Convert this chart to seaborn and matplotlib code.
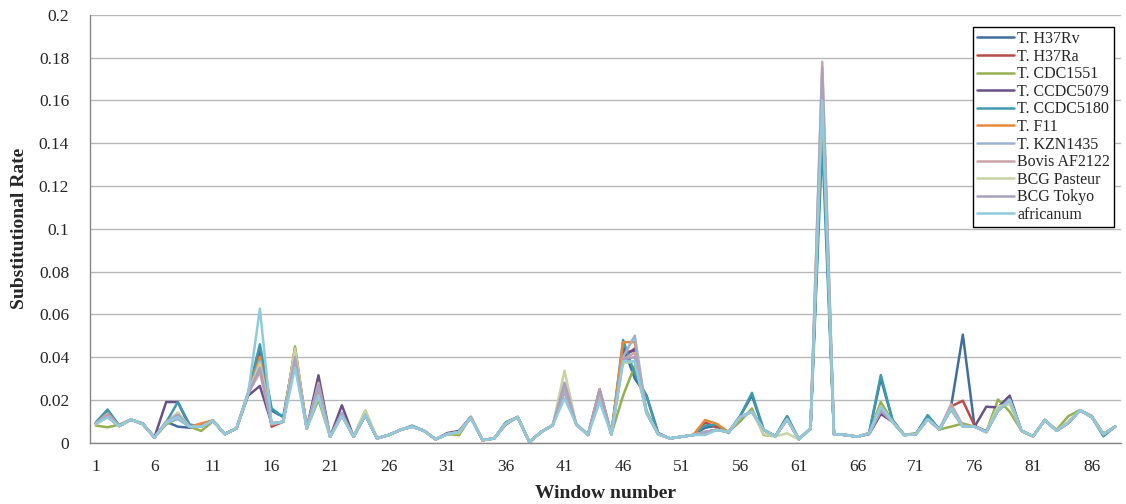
import numpy as np
import pandas as pd
import seaborn as sns
import matplotlib.pyplot as plt

windows = list(range(1, 89))

strains = ["T. H37Rv", "T. H37Ra", "T. CDC1551", "T. CCDC5079", "T. CCDC5180", "T. F11",
           "T. KZN1435", "Bovis AF2122", "BCG Pasteur", "BCG Tokyo", "africanum"]

colors = ["#3F6E9F", "#B84C49", "#95B04F", "#6A5088", "#3E9AAE", "#E8893A",
          "#9DB2D3", "#CCA3A6", "#C6D5A3", "#ABA0C0", "#8FCBDD"]

h37rv = [0.0092, 0.0150, 0.0080, 0.0108, 0.0088, 0.0024, 0.0098, 0.0075, 0.0070, 0.0076,
         0.0102, 0.0040, 0.0066, 0.0230, 0.0430, 0.0150, 0.0120, 0.0430, 0.0068, 0.0240,
         0.0029, 0.0130, 0.0028, 0.0128, 0.0021, 0.0036, 0.0060, 0.0076, 0.0056, 0.0016,
         0.0040, 0.0052, 0.0118, 0.0012, 0.0020, 0.0095, 0.0120, 0.0003, 0.0050, 0.0082,
         0.0240, 0.0088, 0.0036, 0.0225, 0.0040, 0.0450, 0.0300, 0.0220, 0.0045, 0.0020,
         0.0028, 0.0036, 0.0070, 0.0080, 0.0050, 0.0125, 0.0220, 0.0060, 0.0030, 0.0115,
         0.0016, 0.0067, 0.1500, 0.0040, 0.0036, 0.0028, 0.0044, 0.0300, 0.0105, 0.0036,
         0.0040, 0.0125, 0.0062, 0.0170, 0.0505, 0.0075, 0.0055, 0.0150, 0.0200, 0.0056,
         0.0030, 0.0106, 0.0056, 0.0092, 0.0150, 0.0120, 0.0040, 0.0075]

h37ra = [0.0090, 0.0120, 0.0078, 0.0108, 0.0087, 0.0025, 0.0092, 0.0120, 0.0075, 0.0080,
         0.0103, 0.0040, 0.0067, 0.0230, 0.0410, 0.0075, 0.0098, 0.0440, 0.0067, 0.0250,
         0.0028, 0.0132, 0.0028, 0.0130, 0.0020, 0.0036, 0.0060, 0.0075, 0.0056, 0.0016,
         0.0040, 0.0050, 0.0120, 0.0012, 0.0020, 0.0085, 0.0120, 0.0003, 0.0050, 0.0082,
         0.0250, 0.0087, 0.0036, 0.0230, 0.0040, 0.0420, 0.0430, 0.0140, 0.0040, 0.0020,
         0.0028, 0.0036, 0.0095, 0.0070, 0.0050, 0.0120, 0.0145, 0.0060, 0.0030, 0.0110,
         0.0016, 0.0067, 0.1550, 0.0040, 0.0036, 0.0028, 0.0044, 0.0150, 0.0098, 0.0036,
         0.0040, 0.0110, 0.0062, 0.0170, 0.0196, 0.0080, 0.0050, 0.0150, 0.0200, 0.0056,
         0.0030, 0.0106, 0.0056, 0.0093, 0.0152, 0.0125, 0.0040, 0.0075]

cdc1551 = [0.0080, 0.0072, 0.0085, 0.0108, 0.0087, 0.0025, 0.0085, 0.0115, 0.0075, 0.0055,
           0.0100, 0.0040, 0.0067, 0.0230, 0.0390, 0.0090, 0.0098, 0.0450, 0.0067, 0.0200,
           0.0028, 0.0125, 0.0028, 0.0150, 0.0020, 0.0036, 0.0060, 0.0075, 0.0056, 0.0016,
           0.0040, 0.0035, 0.0120, 0.0012, 0.0020, 0.0090, 0.0120, 0.0003, 0.0050, 0.0082,
           0.0260, 0.0087, 0.0036, 0.0230, 0.0040, 0.0220, 0.0360, 0.0150, 0.0040, 0.0020,
           0.0028, 0.0036, 0.0045, 0.0060, 0.0050, 0.0100, 0.0160, 0.0036, 0.0030, 0.0124,
           0.0016, 0.0067, 0.1550, 0.0040, 0.0036, 0.0028, 0.0044, 0.0190, 0.0098, 0.0036,
           0.0045, 0.0110, 0.0062, 0.0075, 0.0090, 0.0075, 0.0050, 0.0202, 0.0145, 0.0056,
           0.0030, 0.0106, 0.0060, 0.0124, 0.0152, 0.0120, 0.0040, 0.0075]

ccdc5079 = [0.0090, 0.0125, 0.0078, 0.0108, 0.0090, 0.0025, 0.0190, 0.0190, 0.0075, 0.0075,
            0.0103, 0.0040, 0.0067, 0.0220, 0.0265, 0.0090, 0.0098, 0.0420, 0.0067, 0.0315,
            0.0028, 0.0175, 0.0028, 0.0130, 0.0020, 0.0036, 0.0060, 0.0075, 0.0056, 0.0016,
            0.0045, 0.0055, 0.0120, 0.0012, 0.0020, 0.0090, 0.0120, 0.0003, 0.0050, 0.0082,
            0.0270, 0.0087, 0.0036, 0.0250, 0.0040, 0.0400, 0.0440, 0.0140, 0.0040, 0.0020,
            0.0028, 0.0036, 0.0050, 0.0060, 0.0050, 0.0120, 0.0145, 0.0060, 0.0030, 0.0110,
            0.0016, 0.0067, 0.1600, 0.0040, 0.0036, 0.0028, 0.0040, 0.0134, 0.0098, 0.0036,
            0.0040, 0.0110, 0.0062, 0.0160, 0.0075, 0.0075, 0.0168, 0.0165, 0.0220, 0.0056,
            0.0030, 0.0106, 0.0056, 0.0093, 0.0152, 0.0120, 0.0040, 0.0075]

ccdc5180 = [0.0095, 0.0155, 0.0078, 0.0108, 0.0087, 0.0025, 0.0095, 0.0190, 0.0085, 0.0075,
            0.0103, 0.0040, 0.0067, 0.0235, 0.0460, 0.0160, 0.0120, 0.0410, 0.0067, 0.0230,
            0.0028, 0.0130, 0.0028, 0.0130, 0.0020, 0.0036, 0.0060, 0.0080, 0.0056, 0.0016,
            0.0040, 0.0050, 0.0120, 0.0012, 0.0020, 0.0095, 0.0120, 0.0003, 0.0050, 0.0082,
            0.0240, 0.0087, 0.0036, 0.0230, 0.0040, 0.0480, 0.0320, 0.0220, 0.0040, 0.0020,
            0.0028, 0.0036, 0.0080, 0.0085, 0.0045, 0.0125, 0.0233, 0.0060, 0.0030, 0.0124,
            0.0016, 0.0067, 0.1400, 0.0040, 0.0036, 0.0028, 0.0044, 0.0316, 0.0106, 0.0036,
            0.0040, 0.0129, 0.0062, 0.0155, 0.0075, 0.0075, 0.0050, 0.0150, 0.0200, 0.0056,
            0.0030, 0.0106, 0.0056, 0.0093, 0.0152, 0.0120, 0.0030, 0.0075]

f11 = [0.0090, 0.0120, 0.0078, 0.0108, 0.0087, 0.0025, 0.0095, 0.0120, 0.0075, 0.0090,
       0.0105, 0.0040, 0.0067, 0.0230, 0.0400, 0.0090, 0.0098, 0.0440, 0.0067, 0.0250,
       0.0028, 0.0130, 0.0028, 0.0135, 0.0020, 0.0036, 0.0060, 0.0075, 0.0056, 0.0016,
       0.0040, 0.0050, 0.0120, 0.0012, 0.0020, 0.0090, 0.0120, 0.0003, 0.0050, 0.0082,
       0.0250, 0.0087, 0.0036, 0.0230, 0.0040, 0.0470, 0.0470, 0.0140, 0.0040, 0.0020,
       0.0028, 0.0036, 0.0106, 0.0088, 0.0050, 0.0120, 0.0145, 0.0060, 0.0030, 0.0110,
       0.0016, 0.0067, 0.1580, 0.0040, 0.0036, 0.0028, 0.0044, 0.0150, 0.0098, 0.0036,
       0.0040, 0.0110, 0.0062, 0.0160, 0.0075, 0.0075, 0.0050, 0.0150, 0.0200, 0.0056,
       0.0030, 0.0106, 0.0056, 0.0093, 0.0152, 0.0120, 0.0040, 0.0075]

kzn1435 = [0.0090, 0.0120, 0.0078, 0.0108, 0.0087, 0.0025, 0.0095, 0.0110, 0.0075, 0.0075,
           0.0103, 0.0040, 0.0067, 0.0230, 0.0380, 0.0090, 0.0098, 0.0400, 0.0067, 0.0260,
           0.0028, 0.0130, 0.0028, 0.0130, 0.0020, 0.0036, 0.0060, 0.0075, 0.0056, 0.0016,
           0.0040, 0.0050, 0.0120, 0.0012, 0.0020, 0.0090, 0.0120, 0.0003, 0.0050, 0.0082,
           0.0240, 0.0087, 0.0036, 0.0220, 0.0040, 0.0400, 0.0500, 0.0140, 0.0040, 0.0020,
           0.0028, 0.0036, 0.0050, 0.0060, 0.0050, 0.0120, 0.0145, 0.0060, 0.0030, 0.0110,
           0.0016, 0.0067, 0.1650, 0.0040, 0.0036, 0.0028, 0.0044, 0.0150, 0.0098, 0.0036,
           0.0040, 0.0110, 0.0062, 0.0160, 0.0075, 0.0075, 0.0050, 0.0150, 0.0200, 0.0056,
           0.0030, 0.0106, 0.0056, 0.0093, 0.0152, 0.0120, 0.0040, 0.0075]

bovis = [0.0090, 0.0137, 0.0078, 0.0108, 0.0087, 0.0025, 0.0095, 0.0140, 0.0075, 0.0075,
         0.0103, 0.0040, 0.0067, 0.0230, 0.0330, 0.0085, 0.0098, 0.0390, 0.0067, 0.0280,
         0.0028, 0.0135, 0.0028, 0.0130, 0.0020, 0.0036, 0.0060, 0.0075, 0.0056, 0.0016,
         0.0040, 0.0050, 0.0120, 0.0012, 0.0020, 0.0090, 0.0120, 0.0003, 0.0050, 0.0082,
         0.0260, 0.0087, 0.0036, 0.0250, 0.0040, 0.0390, 0.0420, 0.0140, 0.0040, 0.0020,
         0.0028, 0.0036, 0.0050, 0.0060, 0.0050, 0.0120, 0.0145, 0.0060, 0.0030, 0.0110,
         0.0016, 0.0067, 0.1780, 0.0040, 0.0036, 0.0028, 0.0044, 0.0150, 0.0098, 0.0036,
         0.0040, 0.0110, 0.0062, 0.0180, 0.0080, 0.0075, 0.0050, 0.0150, 0.0200, 0.0056,
         0.0030, 0.0106, 0.0056, 0.0093, 0.0152, 0.0125, 0.0040, 0.0075]

bcg_pasteur = [0.0085, 0.0120, 0.0078, 0.0108, 0.0087, 0.0025, 0.0090, 0.0140, 0.0075, 0.0075,
               0.0103, 0.0040, 0.0067, 0.0230, 0.0370, 0.0090, 0.0098, 0.0440, 0.0067, 0.0220,
               0.0028, 0.0130, 0.0028, 0.0150, 0.0020, 0.0036, 0.0060, 0.0075, 0.0056, 0.0016,
               0.0040, 0.0045, 0.0120, 0.0012, 0.0020, 0.0090, 0.0120, 0.0003, 0.0050, 0.0082,
               0.0336, 0.0087, 0.0036, 0.0230, 0.0040, 0.0370, 0.0380, 0.0140, 0.0040, 0.0020,
               0.0028, 0.0036, 0.0050, 0.0060, 0.0050, 0.0120, 0.0145, 0.0040, 0.0030, 0.0044,
               0.0016, 0.0067, 0.1700, 0.0040, 0.0036, 0.0028, 0.0044, 0.0170, 0.0098, 0.0036,
               0.0040, 0.0110, 0.0062, 0.0160, 0.0075, 0.0075, 0.0050, 0.0170, 0.0180, 0.0056,
               0.0030, 0.0106, 0.0056, 0.0100, 0.0152, 0.0120, 0.0040, 0.0075]

bcg_tokyo = [0.0090, 0.0125, 0.0078, 0.0108, 0.0087, 0.0025, 0.0095, 0.0130, 0.0075, 0.0075,
             0.0103, 0.0040, 0.0067, 0.0230, 0.0350, 0.0090, 0.0098, 0.0400, 0.0067, 0.0270,
             0.0028, 0.0140, 0.0028, 0.0130, 0.0020, 0.0036, 0.0060, 0.0075, 0.0056, 0.0016,
             0.0040, 0.0050, 0.0120, 0.0012, 0.0020, 0.0090, 0.0120, 0.0003, 0.0050, 0.0082,
             0.0280, 0.0087, 0.0036, 0.0240, 0.0040, 0.0390, 0.0400, 0.0140, 0.0040, 0.0020,
             0.0028, 0.0036, 0.0050, 0.0060, 0.0050, 0.0120, 0.0145, 0.0060, 0.0030, 0.0110,
             0.0016, 0.0067, 0.1750, 0.0040, 0.0036, 0.0028, 0.0044, 0.0150, 0.0098, 0.0036,
             0.0040, 0.0110, 0.0062, 0.0160, 0.0075, 0.0075, 0.0050, 0.0150, 0.0200, 0.0056,
             0.0030, 0.0106, 0.0056, 0.0093, 0.0152, 0.0120, 0.0040, 0.0075]

africanum = [0.0090, 0.0120, 0.0078, 0.0108, 0.0087, 0.0025, 0.0095, 0.0120, 0.0075, 0.0075,
             0.0103, 0.0040, 0.0067, 0.0230, 0.0626, 0.0090, 0.0098, 0.0350, 0.0067, 0.0220,
             0.0028, 0.0125, 0.0028, 0.0130, 0.0020, 0.0036, 0.0060, 0.0075, 0.0056, 0.0016,
             0.0040, 0.0050, 0.0115, 0.0012, 0.0020, 0.0090, 0.0120, 0.0003, 0.0050, 0.0082,
             0.0207, 0.0087, 0.0036, 0.0190, 0.0040, 0.0380, 0.0380, 0.0140, 0.0040, 0.0020,
             0.0028, 0.0036, 0.0036, 0.0060, 0.0050, 0.0120, 0.0145, 0.0060, 0.0030, 0.0110,
             0.0016, 0.0067, 0.1600, 0.0040, 0.0036, 0.0028, 0.0044, 0.0168, 0.0098, 0.0036,
             0.0040, 0.0110, 0.0062, 0.0160, 0.0075, 0.0075, 0.0050, 0.0150, 0.0200, 0.0056,
             0.0030, 0.0106, 0.0056, 0.0093, 0.0152, 0.0120, 0.0040, 0.0075]

series = [h37rv, h37ra, cdc1551, ccdc5079, ccdc5180, f11,
          kzn1435, bovis, bcg_pasteur, bcg_tokyo, africanum]

rows = []
for name, vals in zip(strains, series):
    for w, v in zip(windows, vals):
        rows.append([name, w, v])
df = pd.DataFrame(rows, columns=["strain", "window", "rate"])

sns.set_style("white")
plt.rcParams['font.family'] = ['Liberation Serif', 'DejaVu Serif']

fig = plt.figure(figsize=(11.26, 5.04), dpi=100)
ax = fig.add_axes([90 / 1126, 1 - 442.7 / 504, 1031 / 1126, 428 / 504])

sns.lineplot(data=df, x="window", y="rate", hue="strain", hue_order=strains,
             palette=colors, linewidth=1.8, estimator=None, ax=ax)

ax.set_xlim(0.5, 88.5)
ax.set_ylim(0, 0.2)

yt = np.round(np.arange(0, 0.201, 0.02), 2)
ax.set_yticks(yt)
ax.set_yticklabels([f"{v:g}" for v in yt], fontsize=12.5)
ax.yaxis.grid(True, color="#B8B8B8", linewidth=1)
ax.set_axisbelow(True)

xt = list(range(1, 89, 5))
ax.set_xticks(xt)
ax.set_xticklabels([str(x) for x in xt], fontsize=12.5)
ax.set_xticks([x - 0.5 for x in xt], minor=True)
ax.tick_params(axis="x", which="major", length=0, pad=12)
ax.tick_params(axis="x", which="minor", length=5, width=1, color="#868686", direction="out")
ax.tick_params(axis="y", length=4, width=1, color="#868686", direction="out", pad=11)

for s in ["top", "right"]:
    ax.spines[s].set_visible(False)
for s in ["left", "bottom"]:
    ax.spines[s].set_color("#868686")
    ax.spines[s].set_linewidth(1)

ax.set_xlabel("Window number", fontsize=14, fontweight="bold", labelpad=7)
ax.set_ylabel("Substitutional Rate", fontsize=14, fontweight="bold", labelpad=8)

handles, labels = ax.get_legend_handles_labels()
leg = ax.legend(handles, labels, loc="upper right", bbox_to_anchor=(1114 / 1126, 1 - 27 / 504),
                bbox_transform=fig.transFigure, fontsize=11.5, frameon=True, fancybox=False,
                edgecolor="black", framealpha=1, borderaxespad=0, borderpad=0.25,
                labelspacing=0.1, handlelength=2.3, handletextpad=0.2)
leg.get_frame().set_linewidth(1)

plt.savefig("out.png", dpi=100)
